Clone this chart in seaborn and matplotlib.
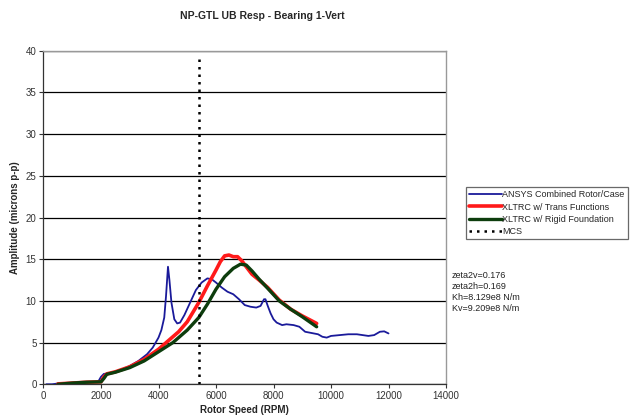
import matplotlib
matplotlib.use("Agg")
import matplotlib.pyplot as plt
import seaborn as sns
import pandas as pd

# ---- data ----
ansys_rpm = [100, 300, 500, 800, 1200, 1600, 1900, 2000, 2100, 2300, 2600, 3000, 3300, 3600,
             3800, 4000, 4100, 4200, 4260, 4330, 4380, 4450, 4550, 4650, 4750, 4900, 5100,
             5300, 5500, 5700, 5850, 6000, 6200, 6400, 6600, 6800, 7000, 7200, 7400, 7550,
             7670, 7720, 7800, 7900, 8000, 8110, 8300, 8450, 8700, 8900, 9000, 9100, 9250,
             9400, 9550, 9700, 9850, 10000, 10300, 10600, 10900, 11100, 11300, 11500,
             11700, 11850, 12000]
ansys_amp = [0.0, 0.0, 0.1, 0.15, 0.2, 0.25, 0.3, 0.9, 1.25, 1.3, 1.6, 2.2, 2.8, 3.6,
             4.4, 5.6, 6.5, 8.0, 10.5, 14.1, 12.5, 9.8, 7.8, 7.3, 7.4, 8.3, 9.8,
             11.3, 12.2, 12.7, 12.6, 12.2, 11.6, 11.1, 10.8, 10.2, 9.5, 9.3, 9.2, 9.4,
             10.2, 10.2, 9.4, 8.5, 7.8, 7.4, 7.1, 7.2, 7.1, 6.9, 6.6, 6.3, 6.2,
             6.1, 6.0, 5.7, 5.6, 5.8, 5.9, 6.0, 6.0, 5.9, 5.8, 5.9,
             6.3, 6.35, 6.1]

trans_rpm = [500, 1000, 1500, 2000, 2100, 2200, 2500, 3000, 3500, 4000, 4400, 4700, 5000,
             5400, 5700, 6000, 6150, 6300, 6450, 6600, 6750, 6900, 7050, 7250, 7500, 7800,
             8200, 8600, 9000, 9500]
trans_amp = [0.05, 0.15, 0.25, 0.3, 0.9, 1.25, 1.5, 2.1, 3.0, 4.2, 5.4, 6.3, 7.5,
             9.8, 11.8, 13.7, 14.7, 15.4, 15.5, 15.3, 15.3, 14.8, 14.1, 13.2, 12.5, 11.6,
             10.1, 9.0, 8.2, 7.3]

rigid_rpm = [500, 1000, 1500, 2000, 2100, 2200, 2500, 3000, 3500, 4000, 4500, 5000, 5400,
             5700, 6000, 6300, 6600, 6850, 7050, 7250, 7500, 7800, 8200, 8600, 9000, 9500]
rigid_amp = [0.0, 0.15, 0.25, 0.3, 0.7, 1.2, 1.45, 2.0, 2.8, 3.9, 5.0, 6.5, 8.0,
             9.6, 11.4, 12.9, 13.9, 14.4, 14.3, 13.6, 12.6, 11.5, 10.0, 9.0, 8.1, 6.9]

mcs_rpm = [5400, 5400]
mcs_amp = [0, 39]

series_labels = ["ANSYS Combined Rotor/Case", "XLTRC w/ Trans Functions",
                 "XLTRC w/ Rigid Foundation", "MCS"]
x_ticks = [0, 2000, 4000, 6000, 8000, 10000, 12000, 14000]
y_ticks = [0, 5, 10, 15, 20, 25, 30, 35, 40]
notes = ["zeta2v=0.176", "zeta2h=0.169", "Kh=8.129e8 N/m", "Kv=9.209e8 N/m"]

# ---- style ----
sns.set_style("white")
plt.rcParams["font.family"] = ["Liberation Sans", "DejaVu Sans"]

fig = plt.figure(figsize=(6.34, 4.19), dpi=100)
ax = fig.add_axes([0.0686, 0.0828, 0.6349, 0.7962])

df_a = pd.DataFrame({"rpm": ansys_rpm, "amp": ansys_amp})
df_t = pd.DataFrame({"rpm": trans_rpm, "amp": trans_amp})
df_r = pd.DataFrame({"rpm": rigid_rpm, "amp": rigid_amp})
df_m = pd.DataFrame({"rpm": mcs_rpm, "amp": mcs_amp})

sns.lineplot(data=df_a, x="rpm", y="amp", ax=ax, color="#1a1a9a", lw=1.3,
             sort=False, estimator=None, label=series_labels[0], zorder=3)
sns.lineplot(data=df_t, x="rpm", y="amp", ax=ax, color="#ff1a1a", lw=2.6,
             sort=False, estimator=None, label=series_labels[1], zorder=4)
sns.lineplot(data=df_r, x="rpm", y="amp", ax=ax, color="#0d3d0d", lw=2.4,
             sort=False, estimator=None, label=series_labels[2], zorder=5)
sns.lineplot(data=df_m, x="rpm", y="amp", ax=ax, color="black", lw=1.8,
             sort=False, estimator=None, label=series_labels[3], zorder=6)
ax.lines[-1].set_linestyle((0, (1.0, 2.0)))

ax.set_xlim(0, 14000)
ax.set_ylim(0, 40)
ax.set_xticks(x_ticks)
ax.set_yticks(y_ticks)
ax.tick_params(axis="both", labelsize=7, colors="#333333", length=3, width=0.8,
               direction="out", bottom=True, left=True, pad=2)
ax.set_xticklabels([str(v) for v in x_ticks], color="#333333")
ax.set_yticklabels([str(v) for v in y_ticks], color="#333333")
ax.yaxis.grid(True, color="black", lw=0.9)
ax.xaxis.grid(False)
ax.set_axisbelow(True)
for s in ["top", "right"]:
    ax.spines[s].set_color("#999999")
    ax.spines[s].set_linewidth(1.0)
for s in ["left", "bottom"]:
    ax.spines[s].set_color("#333333")
    ax.spines[s].set_linewidth(0.9)

ax.set_xlabel("Rotor Speed (RPM)", fontsize=7, fontweight="bold", labelpad=3)
ax.set_ylabel("Amplitude (microns p-p)", fontsize=7, fontweight="bold", labelpad=4)

handles, labels = ax.get_legend_handles_labels()
ax.get_legend().remove()
leg = fig.legend(handles, labels, loc="upper left", bbox_to_anchor=(0.735, 0.553),
                 fontsize=6.5, frameon=True, fancybox=False, handlelength=3.6,
                 handletextpad=0.05, labelspacing=0.35, borderpad=0.35,
                 borderaxespad=0.0)
leg.get_frame().set_edgecolor("#444444")
leg.get_frame().set_linewidth(0.9)

fig.text(0.413, 0.962, "NP-GTL UB Resp - Bearing 1-Vert", ha="center", va="center",
         fontsize=7.5, fontweight="bold")
fig.text(0.713, 0.303, "\n".join(notes), ha="left", va="center", fontsize=6.5,
         linespacing=1.25, color="#222222")

fig.savefig("out.png", dpi=100)
